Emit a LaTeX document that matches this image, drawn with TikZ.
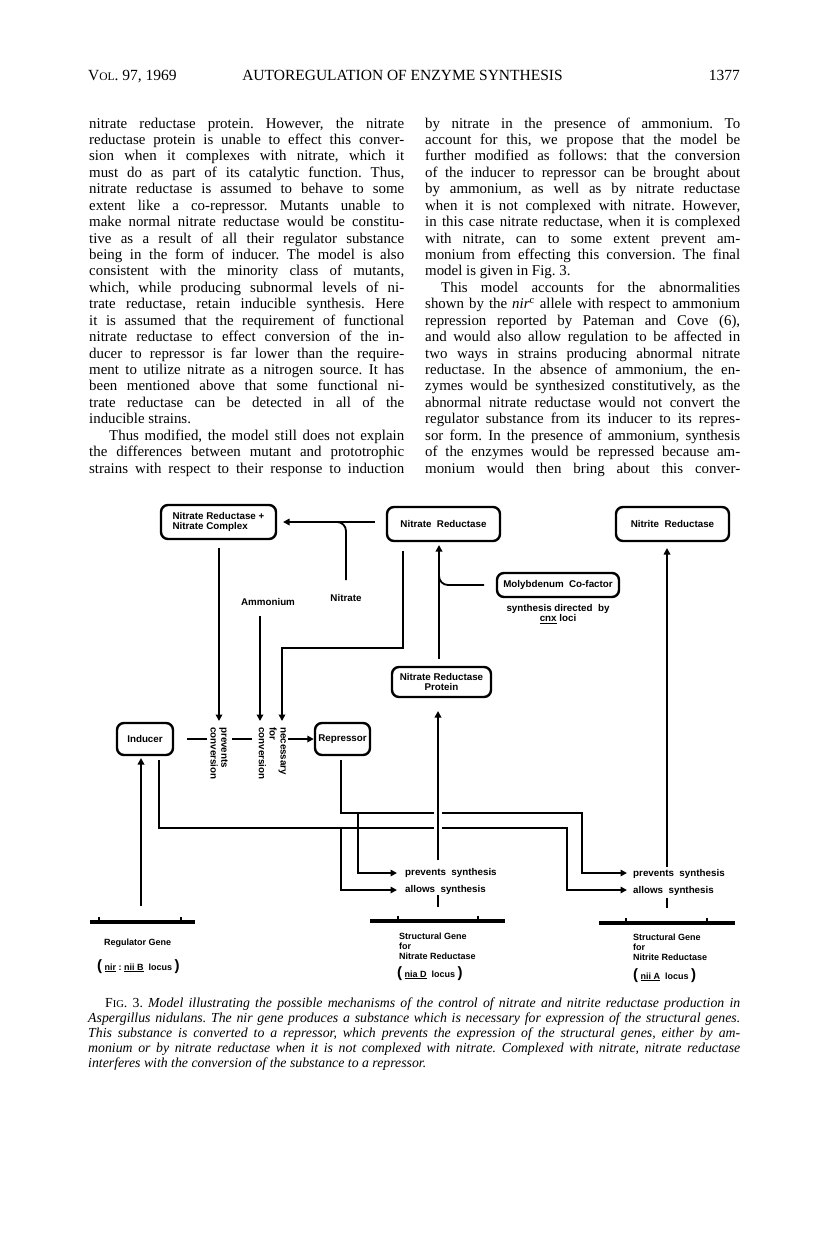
\documentclass[tikz,border=0pt]{standalone}
\usepackage{fontspec}
\setmainfont{Liberation Serif}
\newfontfamily\dfont{Liberation Sans}
\usetikzlibrary{arrows.meta}
\frenchspacing
\newcommand\JL[1]{\hbox to 315pt{#1}}
\newcommand\RL[1]{\hbox to 315pt{#1\hfil}}
\newcommand\CJ[1]{\hbox to 652pt{#1}}
\newcommand\dsz{\dfont\bfseries\fontsize{9.8}{10.8}\selectfont}
\newcommand\gsz{\dfont\bfseries\fontsize{9}{10}\selectfont}
\newcommand\bodyfont{\frenchspacing\fontsize{14.9}{16.43}\selectfont}
\begin{document}
\begin{tikzpicture}[x=1pt,y=-1pt,
  box/.style={draw, line width=2.4pt, rounded corners=7pt, inner sep=0pt, font=\dsz, align=center},
  conn/.style={line width=1.8pt},
  arr/.style={conn, -{Triangle[length=6.5pt,width=6.5pt]}},
  lbl/.style={inner sep=0pt, font=\dsz},
  gene/.style={line width=3.5pt},
  tick/.style={line width=2pt},
  txt/.style={anchor=base west, inner sep=0pt}]
\useasboundingbox (0,0) rectangle (816,1256);
\fill[white] (0,0) rectangle (816,1256);

% header
\node[txt, font=\fontsize{15.5}{16}\selectfont] (hl) at (88,80) {V{\fontsize{11.5}{12}\selectfont OL}. 97, 1969};
\node[anchor=base, inner sep=0pt, font=\fontsize{15.5}{16}\selectfont] (ht) at (402.5,80) {AUTOREGULATION OF ENZYME SYNTHESIS};
\node[anchor=base east, inner sep=0pt, font=\fontsize{15.5}{16}\selectfont] (hr) at (740,80) {1377};

% left column
\node[txt, font=\bodyfont] (colL) at (89,128) {\vtop{\baselineskip=16.43pt\lineskiplimit=-100pt
\JL{nitrate reductase protein. However, the nitrate}
\JL{reductase protein is unable to effect this conver-}
\JL{sion when it complexes with nitrate, which it}
\JL{must do as part of its catalytic function. Thus,}
\JL{nitrate reductase is assumed to behave to some}
\JL{extent like a co-repressor. Mutants unable to}
\JL{make normal nitrate reductase would be constitu-}
\JL{tive as a result of all their regulator substance}
\JL{being in the form of inducer. The model is also}
\JL{consistent with the minority class of mutants,}
\JL{which, while producing subnormal levels of ni-}
\JL{trate reductase, retain inducible synthesis. Here}
\JL{it is assumed that the requirement of functional}
\JL{nitrate reductase to effect conversion of the in-}
\JL{ducer to repressor is far lower than the require-}
\JL{ment to utilize nitrate as a nitrogen source. It has}
\JL{been mentioned above that some functional ni-}
\JL{trate reductase can be detected in all of the}
\RL{inducible strains.}
\JL{\hskip20pt Thus modified, the model still does not explain}
\JL{the differences between mutant and prototrophic}
\JL{strains with respect to their response to induction}}};

% right column
\node[txt, font=\bodyfont] (colR) at (425,128) {\vtop{\baselineskip=16.43pt\lineskiplimit=-100pt
\JL{by nitrate in the presence of ammonium. To}
\JL{account for this, we propose that the model be}
\JL{further modified as follows: that the conversion}
\JL{of the inducer to repressor can be brought about}
\JL{by ammonium, as well as by nitrate reductase}
\JL{when it is not complexed with nitrate. However,}
\JL{in this case nitrate reductase, when it is complexed}
\JL{with nitrate, can to some extent prevent am-}
\JL{monium from effecting this conversion. The final}
\RL{model is given in Fig. 3.}
\JL{\hskip16pt This model accounts for the abnormalities}
\JL{shown by the \textit{nir}\textsuperscript{c} allele with respect to ammonium}
\JL{repression reported by Pateman and Cove (6),}
\JL{and would also allow regulation to be affected in}
\JL{two ways in strains producing abnormal nitrate}
\JL{reductase. In the absence of ammonium, the en-}
\JL{zymes would be synthesized constitutively, as the}
\JL{abnormal nitrate reductase would not convert the}
\JL{regulator substance from its inducer to its repres-}
\JL{sor form. In the presence of ammonium, synthesis}
\JL{of the enzymes would be repressed because am-}
\JL{monium would then bring about this conver-}}};

% diagram boxes
\node[box, minimum width=115pt, minimum height=34pt, align=left] (nrc) at (218.5,522) {Nitrate Reductase +\\Nitrate Complex};
\node[box, minimum width=113pt, minimum height=34pt] (nr) at (443.5,524) {Nitrate \ Reductase};
\node[box, minimum width=113pt, minimum height=34pt] (nir) at (672.5,524) {Nitrite \ Reductase};
\node[box, minimum width=122pt, minimum height=24pt] (mo) at (558,585) {Molybdenum \ Co-factor};
\node[box, minimum width=99pt, minimum height=30pt] (nrp) at (441.5,682) {Nitrate Reductase\\Protein};
\node[box, minimum width=56pt, minimum height=32pt] (ind) at (145,739) {Inducer};
\node[box, minimum width=55pt, minimum height=32pt] (rep) at (342.5,739) {Repressor};

% labels
\node[lbl] (nitl) at (346,598) {Nitrate};
\node[lbl] (amml) at (268,602) {Ammonium};
\node[lbl, align=center] (syn) at (558,614) {synthesis directed \ by\\\underline{cnx} loci};
\node[lbl, rotate=-90, anchor=north west, align=left] (pc) at (228,727) {prevents\\conversion};
\node[lbl, rotate=-90, anchor=north west, align=left] (nc) at (286,727) {necessary\\for\\conversion};

% top connectors
\coordinate (nrL) at (375,522);
\coordinate (nrcR) at (283,522);
\draw[arr] (nrL) -- (nrcR);
\draw[conn, rounded corners=9pt] (346,580) -- (346,522) -- (330,522);
\draw[arr] (219,548) -- (219,721);
\draw[arr] (260,616) -- (260,721);
\draw[arr] (403,551) -- (403,648) -- (282,648) -- (282,721);
\draw[arr] (439,659) -- (439,545);
\draw[conn, rounded corners=9pt] (484,585) -- (439,585) -- (439,568);

% conversion line
\draw[conn] (187,739) -- (207,739);
\draw[conn] (232,739) -- (252,739);
\draw[arr] (288,739) -- (rep.west);

% repressor / inducer lines
\draw[arr] (341,760) -- (341,813) -- (582,813) -- (582,873) -- (627,873);
\draw[arr] (358,813) -- (358,873) -- (397,873);
\draw[arr] (159,760) -- (159,828) -- (567,828) -- (567,890) -- (627,890);
\draw[arr] (341,828) -- (341,890) -- (397,890);
\draw[white, line width=8pt] (438,806) -- (438,835);
\draw[arr] (438,860) -- (438,711);
\draw[arr] (667,867) -- (667,548);
\draw[arr] (141,906) -- (141,758);

\node[lbl, anchor=west] (ps1) at (405,873) {prevents \ synthesis};
\node[lbl, anchor=west] (as1) at (405,890) {allows \ synthesis};
\node[lbl, anchor=west] (ps2) at (633,874) {prevents \ synthesis};
\node[lbl, anchor=west] (as2) at (633,891) {allows \ synthesis};
\draw[tick, line width=2.6pt] (438,895) -- (438,907);
\draw[tick, line width=2.6pt] (667,898) -- (667,908);

% genes
\draw[gene] (90,922) -- (195,922);
\draw[tick] (99,922) -- (99,917);
\draw[tick] (181,922) -- (181,917);
\draw[gene] (370,921) -- (505,921);
\draw[tick] (398,921) -- (398,916);
\draw[tick] (478,921) -- (478,916);
\draw[gene] (599,923) -- (735,923);
\draw[tick] (626,923) -- (626,918);
\draw[tick] (707,923) -- (707,918);

\node[lbl, font=\gsz, anchor=base west] (rg) at (104,945) {Regulator Gene};
\node[lbl, font=\gsz, anchor=base west] (rgl) at (97,970) {{\fontsize{15}{15}\selectfont(} \underline{nir} : \underline{nii B} \ locus {\fontsize{15}{15}\selectfont)}};
\node[lbl, font=\gsz, anchor=north west, align=left] (sg1) at (399,933) {Structural Gene\\for\\Nitrate Reductase};
\node[lbl, font=\gsz, anchor=base west] (sg1l) at (397,977) {{\fontsize{15}{15}\selectfont(} \underline{nia D} \ locus {\fontsize{15}{15}\selectfont)}};
\node[lbl, font=\gsz, anchor=north west, align=left] (sg2) at (633,934) {Structural Gene\\for\\Nitrite Reductase};
\node[lbl, font=\gsz, anchor=base west] (sg2l) at (633,979) {{\fontsize{15}{15}\selectfont(} \underline{nii A} \ locus {\fontsize{15}{15}\selectfont)}};

% caption
\node[txt, font=\frenchspacing\fontsize{13.8}{15}\selectfont\itshape] (cap) at (88,1007) {\vtop{\baselineskip=15pt\lineskiplimit=-100pt
\CJ{\hskip17pt{\upshape F{\fontsize{10.5}{11}\selectfont IG}. 3.} Model illustrating the possible mechanisms of the control of nitrate and nitrite reductase production in}
\CJ{Aspergillus nidulans. The nir gene produces a substance which is necessary for expression of the structural genes.}
\CJ{This substance is converted to a repressor, which prevents the expression of the structural genes, either by am-}
\CJ{monium or by nitrate reductase when it is not complexed with nitrate. Complexed with nitrate, nitrate reductase}
\hbox to 652pt{interferes with the conversion of the substance to a repressor.\hfil}}};
\end{tikzpicture}
\end{document}
